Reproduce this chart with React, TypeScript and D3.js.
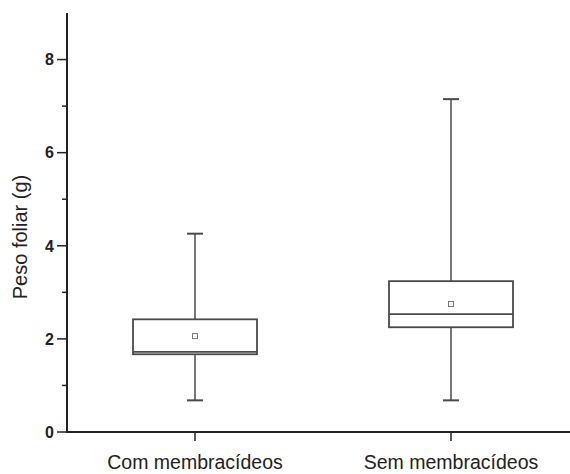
import React, { useEffect, useRef } from 'react';
import * as d3 from 'd3';

const categories = ['Com membracídeos', 'Sem membracídeos'];
const whiskerLow = [0.68, 0.68];
const q1 = [1.67, 2.25];
const medians = [1.72, 2.53];
const q3 = [2.42, 3.24];
const whiskerHigh = [4.26, 7.15];
const means = [2.06, 2.75];
const majorTicks = [0, 2, 4, 6, 8];
const minorTicks = [1, 3, 5, 7];

export default function App() {
  const ref = useRef<SVGSVGElement>(null);

  useEffect(() => {
    const svg = d3.select(ref.current);
    svg.selectAll('*').remove();

    const width = 570;
    const left = 67;
    const bottom = 432;
    const top = 13;

    const y = d3.scaleLinear().domain([0, 9]).range([bottom, top]);
    const x = d3.scalePoint<string>().domain(categories).range([195, 451]);
    const boxW = 124;
    const capW = 16;
    const stroke = '#4a4a4a';

    const font = 'Liberation Sans, Arial, sans-serif';

    // y axis
    const yAxis = svg.append('g').attr('transform', `translate(${left},0)`);
    yAxis.append('line').attr('y1', top).attr('y2', bottom).attr('stroke', '#222').attr('stroke-width', 2);
    yAxis.selectAll('line.major').data(majorTicks).enter().append('line')
      .attr('class', 'major')
      .attr('x1', -10).attr('x2', 0)
      .attr('y1', d => y(d)).attr('y2', d => y(d))
      .attr('stroke', '#222').attr('stroke-width', 1.5);
    yAxis.selectAll('line.minor').data(minorTicks).enter().append('line')
      .attr('class', 'minor')
      .attr('x1', -5).attr('x2', 0)
      .attr('y1', d => y(d)).attr('y2', d => y(d))
      .attr('stroke', '#222').attr('stroke-width', 1.5);
    yAxis.selectAll('text').data(majorTicks).enter().append('text')
      .attr('x', -13).attr('y', d => y(d)).attr('dy', '0.36em')
      .attr('text-anchor', 'end')
      .attr('font-family', font).attr('font-weight', 'bold').attr('font-size', 16)
      .attr('fill', '#222')
      .text(d => d);

    svg.append('text')
      .attr('transform', `translate(27,237) rotate(-90)`)
      .attr('text-anchor', 'middle')
      .attr('font-family', font).attr('font-size', 20).attr('fill', '#222')
      .text('Peso foliar (g)');

    // x axis
    svg.append('line')
      .attr('x1', left - 1).attr('x2', width).attr('y1', bottom).attr('y2', bottom)
      .attr('stroke', '#222').attr('stroke-width', 2);
    const xg = svg.append('g');
    xg.selectAll('line').data(categories).enter().append('line')
      .attr('x1', d => x(d)!).attr('x2', d => x(d)!)
      .attr('y1', bottom).attr('y2', bottom + 9)
      .attr('stroke', '#222').attr('stroke-width', 1.5);
    xg.selectAll('text').data(categories).enter().append('text')
      .attr('x', d => x(d)!).attr('y', 469)
      .attr('text-anchor', 'middle')
      .attr('font-family', font).attr('font-size', 19.5).attr('fill', '#222')
      .text(d => d);

    // boxes
    const g = svg.selectAll('g.box').data(categories).enter().append('g').attr('class', 'box');
    g.append('line')
      .attr('x1', d => x(d)!).attr('x2', d => x(d)!)
      .attr('y1', (d, i) => y(whiskerHigh[i])).attr('y2', (d, i) => y(q3[i]))
      .attr('stroke', stroke).attr('stroke-width', 1.5);
    g.append('line')
      .attr('x1', d => x(d)!).attr('x2', d => x(d)!)
      .attr('y1', (d, i) => y(q1[i])).attr('y2', (d, i) => y(whiskerLow[i]))
      .attr('stroke', stroke).attr('stroke-width', 1.5);
    g.append('line')
      .attr('x1', d => x(d)! - capW / 2).attr('x2', d => x(d)! + capW / 2)
      .attr('y1', (d, i) => y(whiskerHigh[i])).attr('y2', (d, i) => y(whiskerHigh[i]))
      .attr('stroke', stroke).attr('stroke-width', 2);
    g.append('line')
      .attr('x1', d => x(d)! - capW / 2).attr('x2', d => x(d)! + capW / 2)
      .attr('y1', (d, i) => y(whiskerLow[i])).attr('y2', (d, i) => y(whiskerLow[i]))
      .attr('stroke', stroke).attr('stroke-width', 2);
    g.append('rect')
      .attr('x', d => x(d)! - boxW / 2).attr('width', boxW)
      .attr('y', (d, i) => y(q3[i])).attr('height', (d, i) => y(q1[i]) - y(q3[i]))
      .attr('fill', 'white').attr('stroke', stroke).attr('stroke-width', 1.8);
    g.append('line')
      .attr('x1', d => x(d)! - boxW / 2).attr('x2', d => x(d)! + boxW / 2)
      .attr('y1', (d, i) => y(medians[i])).attr('y2', (d, i) => y(medians[i]))
      .attr('stroke', stroke).attr('stroke-width', 1.8);
    g.append('rect')
      .attr('x', d => x(d)! - 2.5).attr('width', 5)
      .attr('y', (d, i) => y(means[i]) - 2.5).attr('height', 5)
      .attr('fill', 'white').attr('stroke', '#777').attr('stroke-width', 1);
  }, []);

  return (
    <svg ref={ref} width={570} height={474}
      style={{ position: 'absolute', left: 0, top: 0, background: 'white' }} />
  );
}
